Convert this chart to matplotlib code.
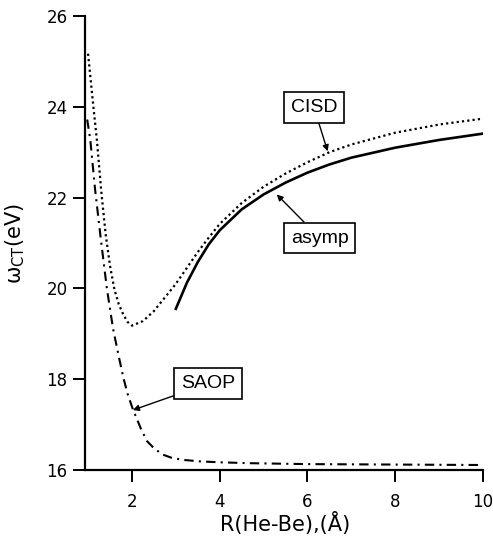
import matplotlib
matplotlib.use("Agg")
import matplotlib.pyplot as plt

# CISD curve (dotted)
r_cisd = [1.0, 1.1, 1.2, 1.3, 1.4, 1.5, 1.6, 1.7, 1.8, 1.9, 2.0, 2.25, 2.5,
          2.75, 3.0, 3.25, 3.5, 3.75, 4.0, 4.5, 5.0, 5.5, 6.0, 6.5, 7.0, 8.0,
          9.0, 10.0]
w_cisd = [25.17, 24.2, 23.28, 22.15, 21.2, 20.5, 19.98, 19.65, 19.43, 19.26,
          19.18, 19.28, 19.5, 19.8, 20.1, 20.45, 20.8, 21.12, 21.42, 21.88,
          22.24, 22.53, 22.78, 23.0, 23.17, 23.43, 23.61, 23.74]

# asymptotic curve (solid)
r_asymp = [3.0, 3.25, 3.5, 3.75, 4.0, 4.5, 5.0, 5.5, 6.0, 6.5, 7.0, 8.0,
           9.0, 10.0]
w_asymp = [19.55, 20.12, 20.58, 20.97, 21.28, 21.74, 22.07, 22.33, 22.55,
           22.73, 22.88, 23.1, 23.27, 23.41]

# SAOP curve (dash-dot)
r_saop = [0.98, 1.05, 1.16, 1.29, 1.43, 1.57, 1.7, 1.8, 1.9, 2.02, 2.2, 2.34,
          2.5, 2.7, 2.93, 3.2, 3.55, 4.0, 4.69, 6.0, 8.0, 10.0]
w_saop = [23.72, 23.28, 22.18, 21.09, 19.99, 19.11, 18.5, 18.05, 17.68, 17.34,
          16.92, 16.64, 16.48, 16.34, 16.26, 16.22, 16.19, 16.17, 16.15, 16.13,
          16.12, 16.11]

x_ticks = [2, 4, 6, 8, 10]
y_ticks = [16, 18, 20, 22, 24, 26]

fig = plt.figure(figsize=(4.93, 5.45), dpi=100)
ax = fig.add_axes([0.1724, 0.1376, 0.8073, 0.8330])

ax.plot(r_cisd, w_cisd, color="black", lw=1.6, linestyle=(0, (1, 1.4)))
ax.plot(r_asymp, w_asymp, color="black", lw=1.9, linestyle="-")
ax.plot(r_saop, w_saop, color="black", lw=1.5, linestyle=(0, (4.5, 2.5, 1, 2.5)))

ax.set_xlim(0.93, 10)
ax.set_ylim(16, 26)
ax.set_xticks(x_ticks)
ax.set_yticks(y_ticks)

for s in ["top", "right"]:
    ax.spines[s].set_visible(False)
for s in ["left", "bottom"]:
    ax.spines[s].set_linewidth(1.6)

ax.tick_params(axis="both", direction="out", length=8.5, width=1.4,
               labelsize=12)
ax.tick_params(axis="x", pad=8)
ax.tick_params(axis="y", pad=4)

ax.set_xlabel("R(He-Be),(Å)", fontsize=15)
ax.set_ylabel(r"ω$_{\mathregular{CT}}$(eV)", fontsize=15)
ax.xaxis.set_label_coords(0.503, -0.093)
ax.yaxis.set_label_coords(-0.145, 0.5)

box = dict(boxstyle="square,pad=0.35", fc="white", ec="black", lw=1.2)
arrow = dict(arrowstyle="-|>", color="black", lw=1.0, mutation_scale=9,
             shrinkA=0, shrinkB=0)

ax.annotate("CISD", xy=(6.46, 23.02), xytext=(6.15, 23.98),
            ha="center", va="center", fontsize=14, family="Liberation Sans",
            bbox=box, arrowprops=arrow)
ax.annotate("asymp", xy=(5.30, 22.07), xytext=(6.28, 21.11),
            ha="center", va="center", fontsize=14, family="Liberation Sans",
            bbox=box, arrowprops=arrow)
ax.annotate("SAOP", xy=(2.02, 17.32), xytext=(3.73, 17.90),
            ha="center", va="center", fontsize=14, family="Liberation Sans",
            bbox=box, arrowprops=arrow)

fig.savefig("out.png", dpi=100)
